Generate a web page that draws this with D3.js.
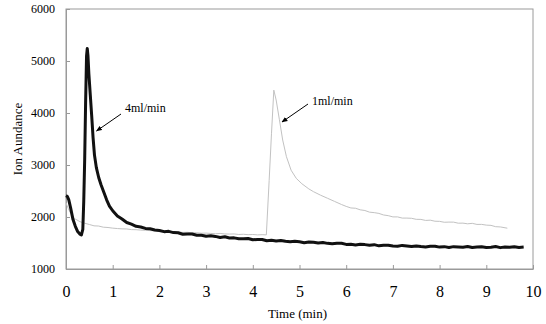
<!DOCTYPE html>
<html>
<head>
<meta charset="utf-8">
<script src="https://cdn.jsdelivr.net/npm/d3@7"></script>
<style>
  html, body { margin: 0; padding: 0; background: #fff; }
  svg { display: block; }
</style>
</head>
<body>
<div id="chart"></div>
<script>
// 4 ml/min run (heavy black trace)
const time4 = [0, 0.03, 0.06, 0.1, 0.15, 0.2, 0.25, 0.3, 0.33, 0.36, 0.38, 0.4, 0.42, 0.44, 0.455, 0.47, 0.49, 0.52, 0.55, 0.58, 0.61, 0.65, 0.7, 0.75, 0.8, 0.87, 0.93, 1.0, 1.1, 1.2, 1.3, 1.4, 1.5, 1.6, 1.7, 1.8, 1.9,
  2.0, 2.1, 2.2, 2.3, 2.4, 2.5, 2.6, 2.7, 2.8, 2.9, 3.0, 3.1, 3.2, 3.3, 3.4, 3.5, 3.6, 3.7, 3.8, 3.9,
  4.0, 4.1, 4.2, 4.3, 4.4, 4.5, 4.6, 4.7, 4.8, 4.9, 5.0, 5.1, 5.2, 5.3, 5.4, 5.5, 5.6, 5.7, 5.8, 5.9,
  6.0, 6.1, 6.2, 6.3, 6.4, 6.5, 6.6, 6.7, 6.8, 6.9, 7.0, 7.1, 7.2, 7.3, 7.4, 7.5, 7.6, 7.7, 7.8, 7.9,
  8.0, 8.1, 8.2, 8.3, 8.4, 8.5, 8.6, 8.7, 8.8, 8.9, 9.0, 9.1, 9.2, 9.3, 9.4, 9.5, 9.6, 9.7, 9.8];
const ion4 = [2410, 2395, 2330, 2170, 1950, 1820, 1720, 1670, 1654, 1760, 2300, 3100, 4200, 5100, 5240, 5110, 4750, 4350, 3950, 3520, 3190, 2950, 2760, 2620, 2500, 2330, 2210, 2120, 2020, 1962, 1894, 1862, 1822, 1808, 1780, 1774, 1750,
  1741, 1718, 1724, 1700, 1697, 1668, 1674, 1673, 1650, 1649, 1630, 1639, 1627, 1607, 1620, 1596, 1599, 1581, 1581, 1587,
  1562, 1568, 1568, 1544, 1552, 1540, 1550, 1534, 1522, 1533, 1523, 1506, 1521, 1513, 1498, 1510, 1493, 1484, 1493, 1496,
  1473, 1477, 1463, 1475, 1469, 1457, 1468, 1445, 1456, 1458, 1444, 1437, 1454, 1442, 1432, 1444, 1432, 1423, 1436, 1439,
  1421, 1430, 1414, 1430, 1424, 1418, 1432, 1413, 1423, 1427, 1415, 1419, 1431, 1411, 1424, 1417, 1428, 1414, 1422];

// 1 ml/min run (thin grey trace)
const time1 = [0, 0.05, 0.1, 0.15, 0.2, 0.3, 0.4, 0.5, 0.6, 0.7, 0.8, 0.9, 1.0, 1.1, 1.2, 1.3, 1.4, 1.5, 1.6, 1.7, 1.8, 1.9, 2.0, 2.1, 2.2, 2.3, 2.4, 2.5, 2.6, 2.7, 2.8, 2.9, 3.0, 3.1, 3.2, 3.3, 3.4, 3.5, 3.6, 3.7, 3.8, 3.9, 4.0, 4.1, 4.2, 4.29,
  4.35, 4.4, 4.45, 4.5, 4.57, 4.64, 4.72, 4.82, 4.93, 5.05, 5.2, 5.3, 5.45, 5.6, 5.75, 5.9, 6.0, 6.1, 6.2, 6.3, 6.4, 6.5, 6.6, 6.7, 6.8, 6.9,
  7.0, 7.1, 7.2, 7.3, 7.4, 7.5, 7.6, 7.7, 7.8, 7.9, 8.0, 8.1, 8.2, 8.3, 8.4, 8.5, 8.6, 8.7, 8.8, 8.9, 9.0, 9.1, 9.2, 9.3, 9.45];
const ion1 = [2270, 2160, 2070, 2000, 1960, 1910, 1880, 1856, 1830, 1826, 1804, 1798, 1786, 1778, 1772, 1770, 1758, 1756, 1748, 1744, 1738, 1736, 1724, 1726, 1716, 1716, 1710, 1704, 1706, 1696, 1698, 1688, 1690, 1684, 1678, 1684, 1674, 1672, 1674, 1664, 1668, 1660, 1664, 1656, 1660, 1656,
  2700, 3600, 4440, 4250, 3870, 3480, 3160, 2900, 2744, 2640, 2540, 2487, 2420, 2360, 2300, 2240, 2204, 2174, 2168, 2138, 2125, 2093, 2084, 2069, 2039, 2026,
  2002, 2002, 1979, 1979, 1975, 1955, 1954, 1934, 1939, 1919, 1916, 1899, 1902, 1901, 1881, 1882, 1869, 1878, 1857, 1858, 1844, 1839, 1814, 1809, 1785];

const yTicks = [1000, 2000, 3000, 4000, 5000, 6000];
const xTicks = [0, 1, 2, 3, 4, 5, 6, 7, 8, 9, 10];

const width = 546, height = 324;
const margin = { top: 9, right: 13, bottom: 55, left: 66 };
const serif = '"Liberation Serif", "Times New Roman", serif';
const axisGrey = '#9a9a9a';

const svg = d3.select('#chart').append('svg')
  .attr('width', width).attr('height', height)
  .style('background', '#fff');

const x = d3.scaleLinear().domain([0, 10]).range([margin.left, width - margin.right]);
const y = d3.scaleLinear().domain([1000, 6000]).range([height - margin.bottom, margin.top]);

// plot frame
svg.append('rect')
  .attr('x', x(0)).attr('y', y(6000))
  .attr('width', x(10) - x(0)).attr('height', y(1000) - y(6000))
  .attr('fill', 'none').attr('stroke', axisGrey).attr('stroke-width', 1);

// axes, ticks pointing inward
const gy = svg.append('g')
  .attr('transform', `translate(${x(0)},0)`)
  .call(d3.axisLeft(y).tickValues(yTicks).tickFormat(d3.format('d'))
    .tickSizeInner(-4).tickSizeOuter(0).tickPadding(11));
gy.attr('font-family', serif).attr('font-size', 12);
gy.selectAll('text').attr('fill', '#000');

const gx = svg.append('g')
  .attr('transform', `translate(0,${y(1000)})`)
  .call(d3.axisBottom(x).tickValues(xTicks).tickFormat(d3.format('d'))
    .tickSizeInner(-4).tickSizeOuter(0).tickPadding(17));
gx.attr('font-family', serif).attr('font-size', 16);
gx.selectAll('text').attr('fill', '#000');

[gx, gy].forEach(g => {
  g.select('.domain').attr('stroke', axisGrey);
  g.selectAll('.tick line').attr('stroke', axisGrey);
});

// traces
const line = d3.line()
  .x(d => x(d[0]))
  .y(d => y(d[1]));

svg.append('path')
  .datum(d3.zip(time1, ion1))
  .attr('d', line)
  .attr('fill', 'none')
  .attr('stroke', '#c2c2c2')
  .attr('stroke-width', 1);

svg.append('path')
  .datum(d3.zip(time4, ion4))
  .attr('d', line)
  .attr('fill', 'none')
  .attr('stroke', '#111')
  .attr('stroke-width', 3)
  .attr('stroke-linejoin', 'round');

// arrow annotations
svg.append('defs').append('marker')
  .attr('id', 'arrow')
  .attr('viewBox', '0 0 10 10')
  .attr('refX', 9).attr('refY', 5)
  .attr('markerWidth', 6).attr('markerHeight', 6)
  .attr('orient', 'auto')
  .append('path')
  .attr('d', 'M0,1 L10,5 L0,9 Z')
  .attr('fill', '#000');

const notes = [
  { label: '4ml/min', tx: 125, ty: 112, from: [121, 114], to: [96.5, 131] },
  { label: '1ml/min', tx: 312, ty: 105, from: [308, 104], to: [282, 122] }
];

notes.forEach(n => {
  svg.append('line')
    .attr('x1', n.from[0]).attr('y1', n.from[1])
    .attr('x2', n.to[0]).attr('y2', n.to[1])
    .attr('stroke', '#000').attr('stroke-width', 1)
    .attr('marker-end', 'url(#arrow)');
  svg.append('text')
    .attr('x', n.tx).attr('y', n.ty)
    .attr('font-size', 12).attr('font-family', serif)
    .text(n.label);
});

// axis titles
svg.append('text')
  .attr('x', (x(0) + x(10)) / 2 - 2).attr('y', 318)
  .attr('text-anchor', 'middle')
  .attr('font-size', 13).attr('font-family', serif)
  .text('Time (min)');

svg.append('text')
  .attr('transform', `translate(22,${(y(1000) + y(6000)) / 2}) rotate(-90)`)
  .attr('text-anchor', 'middle')
  .attr('font-size', 13).attr('font-family', serif)
  .text('Ion Aundance');
</script>
</body>
</html>
